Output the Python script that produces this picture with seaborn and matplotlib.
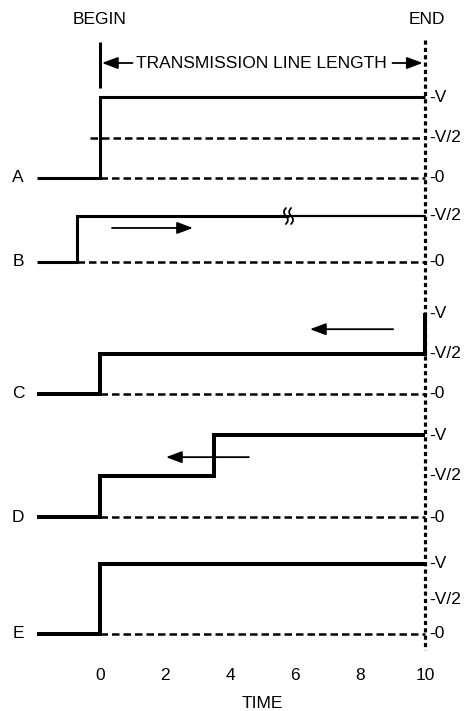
#!/usr/bin/env python3

import numpy as np
import pandas as pd
import seaborn as sns
from matplotlib import pyplot as plt

# step waveforms: time (x axis units) and level (in units of V)
traces = ['A', 'B', 'C', 'D', 'E']
a_time = [-1.95, 0, 0, 10]
a_level = [0, 0, 1, 1]
b_time = [-1.95, -0.7, -0.7, 5.8]
b_level = [0, 0, 0.5, 0.5]
b_tail_time = [5.8, 10]
b_tail_level = [0.5, 0.5]
c_time = [-1.95, 0, 0, 10, 10]
c_level = [0, 0, 0.5, 0.5, 1]
d_time = [-1.95, 0, 0, 3.5, 3.5, 10]
d_level = [0, 0, 0.5, 0.5, 1, 1]
e_time = [-1.95, 0, 0, 10]
e_level = [0, 0, 1, 1]

# right-hand level labels per trace
level_labels = {
    'A': [(1, 'V'), (0.5, 'V/2'), (0, '0')],
    'B': [(0.5, 'V/2'), (0, '0')],
    'C': [(1, 'V'), (0.5, 'V/2'), (0, '0')],
    'D': [(1, 'V'), (0.5, 'V/2'), (0, '0')],
    'E': [(1, 'V'), (0.5, 'V/2'), (0, '0')],
}
time_ticks = [0, 2, 4, 6, 8, 10]

# layout: row baseline (pixel row) and pixels per V
row_base = {'A': 178, 'B': 262, 'C': 394, 'D': 517, 'E': 634}
row_scale = {'A': 81, 'B': 92, 'C': 81, 'D': 82, 'E': 70}
row_lw = {'A': 2.2, 'B': 2.2, 'C': 2.9, 'D': 2.9, 'E': 2.9}
fs = 12.5


def ypos(trace, level):
    return row_base[trace] - np.asarray(level) * row_scale[trace]


sns.set_theme(style='white')
plt.rcParams['font.family'] = ['Liberation Sans', 'DejaVu Sans']
plt.rcParams['text.color'] = 'black'
plt.rcParams['xtick.color'] = 'black'
plt.rcParams['xtick.labelcolor'] = 'black'

fig = plt.figure(figsize=(4.68, 7.11), dpi=100)
ax = fig.add_axes([0, 56 / 711, 1, 655 / 711])
px = 32.5  # pixels per time unit
ax.set_xlim(-100 / px, (468 - 100) / px)
ax.set_ylim(655, 0)
for s in ax.spines.values():
    s.set_visible(False)

rows = []
for name, t, lv in [('A', a_time, a_level), ('B', b_time, b_level),
                    ('C', c_time, c_level), ('D', d_time, d_level),
                    ('E', e_time, e_level)]:
    for i, (tt, ll) in enumerate(zip(t, lv)):
        rows.append({'trace': name, 'order': i, 'time': tt,
                     'y': ypos(name, ll)})
df = pd.DataFrame(rows)

for name in traces:
    sub = df[df.trace == name]
    sns.lineplot(data=sub, x='time', y='y', sort=False, estimator=None,
                 color='black', lw=row_lw[name], ax=ax,
                 solid_capstyle='butt', solid_joinstyle='miter', zorder=3)

# thinner continuation of B after the break
ax.plot(b_tail_time, ypos('B', b_tail_level), color='black', lw=1.6, zorder=3)

# break mark on B
yy = np.linspace(-8, 8, 50)
for dx in (-0.08, 0.08):
    xs = 5.8 + dx + 0.06 * np.sin(yy / 8 * np.pi)
    ax.plot(xs, ypos('B', 0.5) + yy, color='black', lw=1.3, zorder=4)

# dashed reference lines
dash = (0, (3, 1.6))
dlw = 1.8
ax.hlines(ypos('A', 0.5), -0.31, 10, colors='black', lw=dlw, linestyles=[dash])
ax.hlines(ypos('A', 0), 0, 10, colors='black', lw=dlw, linestyles=[dash])
ax.hlines(ypos('B', 0), -0.7, 10, colors='black', lw=dlw, linestyles=[dash])
for name in ['C', 'D', 'E']:
    ax.hlines(ypos(name, 0), 0, 10, colors='black', lw=dlw, linestyles=[dash])

# END dotted line and BEGIN marker
ax.vlines(10, 40, 650, colors='black', lw=2.3, linestyles=[(0, (1.3, 1.0))],
          zorder=2)
ax.vlines(0, 42, 88, colors='black', lw=2.2)

# labels
ax.text(0, 19, 'BEGIN', ha='center', va='center', fontsize=fs)
ax.text(10.05, 19, 'END', ha='center', va='center', fontsize=fs)
ax.text(4.95, 63, 'TRANSMISSION LINE LENGTH', ha='center', va='center',
        fontsize=fs)

arrow = dict(arrowstyle='-|>,head_length=0.8,head_width=0.3', color='black',
             lw=1.3, shrinkA=0, shrinkB=0)
ax.annotate('', xy=(0.06, 63), xytext=(1.0, 63), arrowprops=arrow)
ax.annotate('', xy=(9.93, 63), xytext=(9.0, 63), arrowprops=arrow)
ax.annotate('', xy=(2.86, ypos('B', 0.37)), xytext=(0.37, ypos('B', 0.37)),
            arrowprops=arrow)
ax.annotate('', xy=(6.46, ypos('C', 0.80)), xytext=(9.02, ypos('C', 0.80)),
            arrowprops=arrow)
ax.annotate('', xy=(2.03, ypos('D', 0.73)), xytext=(4.58, ypos('D', 0.73)),
            arrowprops=arrow)

for name in traces:
    ax.text(-2.52, ypos(name, 0), name, ha='center', va='center', fontsize=fs)
    for lv, lab in level_labels[name]:
        ax.annotate('-' + lab, xy=(10, ypos(name, lv)), xytext=(3, 0),
                    textcoords='offset points', ha='left', va='center',
                    fontsize=fs)

ax.set_xticks(time_ticks)
ax.set_xticklabels([str(t) for t in time_ticks], fontsize=fs)
ax.set_yticks([])
ax.tick_params(axis='x', length=0, pad=9, labelcolor='black')
ax.set_xlabel(None)
ax.set_ylabel(None)
ax.text(5.0, 703, 'TIME', ha='center', va='center', fontsize=fs, clip_on=False)

fig.savefig('out.png', dpi=100)
